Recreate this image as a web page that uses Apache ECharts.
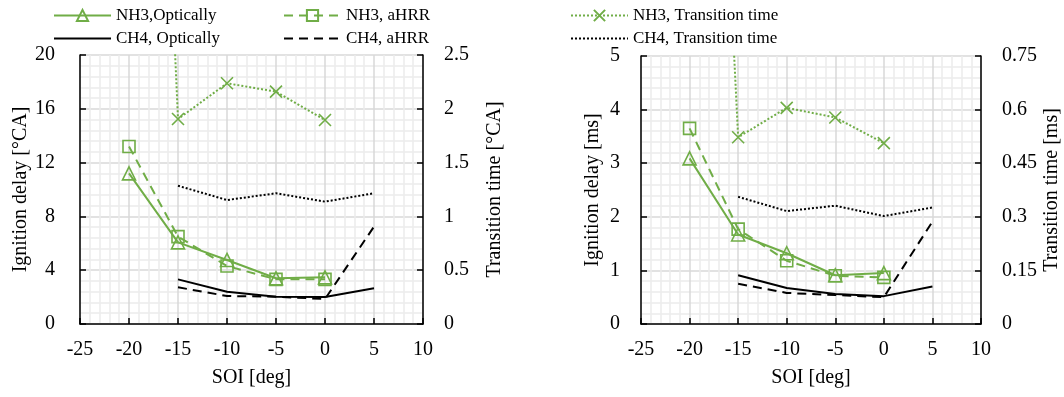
<!DOCTYPE html>
<html>
<head>
<meta charset="utf-8">
<script src="https://cdn.jsdelivr.net/npm/echarts@6/dist/echarts.min.js"></script>
<style>
html,body{margin:0;padding:0;background:#fff;}
#c{width:1064px;height:397px;}
</style>
</head>
<body>
<div id="c"></div>
<script>
// ---- data ----
const soi = [-20, -15, -10, -5, 0, 5];
// left chart (crank angle)
const nh3Opt_CA   = [11.2, 6.07, 4.76, 3.40, 3.47, null];
const nh3aHRR_CA  = [13.2, 6.50, 4.31, 3.32, 3.32, null];
const ch4Opt_CA   = [null, 3.32, 2.40, 2.03, 2.00, 2.65];
const ch4aHRR_CA  = [null, 2.73, 2.08, 2.03, 1.86, 7.24];
const nh3Trans_CA = [12.2, 1.905, 2.237, 2.16, 1.896, null];
const ch4Trans_CA = [null, 1.285, 1.152, 1.215, 1.137, 1.215];
// right chart (ms)
const nh3Opt_ms   = [3.09, 1.67, 1.32, 0.91, 0.95, null];
const nh3aHRR_ms  = [3.65, 1.77, 1.18, 0.90, 0.87, null];
const ch4Opt_ms   = [null, 0.91, 0.67, 0.56, 0.52, 0.70];
const ch4aHRR_ms  = [null, 0.75, 0.58, 0.54, 0.50, 1.91];
const nh3Trans_ms = [3.3, 0.5225, 0.605, 0.578, 0.506, null];
const ch4Trans_ms = [null, 0.356, 0.316, 0.331, 0.302, 0.326];

const names = ['NH3,Optically', 'NH3, aHRR', 'CH4, Optically', 'CH4, aHRR', 'NH3, Transition time', 'CH4, Transition time'];

const GREEN = '#70ad47';
const FONT = 'Liberation Serif';
const xPath = 'path://M0,0L10,10M0,10L10,0';

function pairs(ys){ return soi.map((x,i)=>[x, ys[i]]); }

const styles = [
  {color: GREEN, type: 'solid', symbol: 'triangle', size: 13, mark: true},
  {color: GREEN, type: [9, 6], symbol: 'rect', size: 12, mark: true},
  {color: '#000', type: 'solid', symbol: 'circle', size: 1, mark: false},
  {color: '#000', type: [9, 6], symbol: 'circle', size: 1, mark: false},
  {color: GREEN, type: [2, 2], symbol: xPath, size: 12, mark: true},
  {color: '#000', type: [2, 2], symbol: 'circle', size: 1, mark: false}
];

function mkSeries(gi, arrs){
  return arrs.map((a, k)=>{
    const s = styles[k];
    return {
      name: names[k], type: 'line',
      xAxisIndex: gi, yAxisIndex: gi*2 + (k >= 4 ? 1 : 0),
      data: pairs(a), clip: true, connectNulls: false,
      symbol: s.symbol, symbolSize: s.size, showSymbol: s.mark,
      lineStyle: {color: s.color, width: 2, type: s.type},
      itemStyle: {color: 'rgba(0,0,0,0)', borderColor: s.mark ? s.color : 'rgba(0,0,0,0)', borderWidth: s.mark ? 1.6 : 0},
      emphasis: {disabled: true}, animation: false
    };
  });
}

const grids = [
  {left: 80, top: 55, width: 343, height: 269},
  {left: 641, top: 56, width: 340, height: 268}
];

function xAxis(gi){
  return {
    type: 'value', gridIndex: gi, min: -25, max: 10, interval: 5,
    name: 'SOI [deg]', nameLocation: 'middle', nameGap: 44,
    nameTextStyle: {fontFamily: FONT, fontSize: 20, color: '#000'},
    axisLine: {show: true, onZero: false, lineStyle: {color: '#000', width: 1.5}},
    axisTick: {show: true, inside: true, length: 6, lineStyle: {color: '#000', width: 1.5}},
    axisLabel: {fontFamily: FONT, fontSize: 20, color: '#000', margin: 16},
    splitLine: {show: true, lineStyle: {color: '#d9d9d9', width: 1.5}},
    minorTick: {show: false, splitNumber: 5},
    minorSplitLine: {show: true, lineStyle: {color: '#ececec', width: 1.5}}
  };
}

function yAxis(gi, pos, max, interval, name, nameGap, margin, fmt){
  const left = pos === 'left';
  return {
    type: 'value', gridIndex: gi, position: pos, min: 0, max: max, interval: interval,
    name: name, nameLocation: 'middle', nameGap: nameGap, nameRotate: 90,
    nameTextStyle: {fontFamily: FONT, fontSize: 20, color: '#000'},
    axisLine: {show: true, onZero: false, lineStyle: {color: '#000', width: 1.5}},
    axisTick: {show: true, inside: true, length: 6, lineStyle: {color: '#000', width: 1.5}},
    axisLabel: {fontFamily: FONT, fontSize: 20, color: '#000', margin: margin, formatter: fmt},
    splitLine: {show: left, lineStyle: {color: '#d9d9d9', width: 1.5}},
    minorTick: {show: false, splitNumber: 5},
    minorSplitLine: {show: left, lineStyle: {color: '#ececec', width: 1.5}}
  };
}

const fmtPlain = v => String(Math.round(v*1000)/1000);

const legendPos = [
  {left: 53, top: 7}, {left: 283, top: 7}, {left: 53, top: 30}, {left: 283, top: 30},
  {left: 570, top: 7}, {left: 570, top: 30}
];
const legends = names.map((n, k)=>({
  data: [n], left: legendPos[k].left, top: legendPos[k].top,
  itemWidth: 57, itemHeight: 14, selectedMode: false, padding: 0,
  textStyle: {fontFamily: FONT, fontSize: 17, color: '#000'}
}));

const option = {
  animation: false,
  backgroundColor: '#fff',
  grid: grids,
  legend: legends,
  xAxis: [xAxis(0), xAxis(1)],
  yAxis: [
    yAxis(0, 'left', 20, 4, 'Ignition delay [°CA]', 48, 25, fmtPlain),
    yAxis(0, 'right', 2.5, 0.5, 'Transition time [°CA]', 62, 21, fmtPlain),
    yAxis(1, 'left', 5, 1, 'Ignition delay [ms]', 38, 21, fmtPlain),
    yAxis(1, 'right', 0.75, 0.15, 'Transition time [ms]', 61, 21, fmtPlain)
  ],
  series: [
    ...mkSeries(0, [nh3Opt_CA, nh3aHRR_CA, ch4Opt_CA, ch4aHRR_CA, nh3Trans_CA, ch4Trans_CA]),
    ...mkSeries(1, [nh3Opt_ms, nh3aHRR_ms, ch4Opt_ms, ch4aHRR_ms, nh3Trans_ms, ch4Trans_ms])
  ]
};

const chart = echarts.init(document.getElementById('c'), null, {renderer: 'canvas'});
chart.setOption(option);
</script>
</body>
</html>
